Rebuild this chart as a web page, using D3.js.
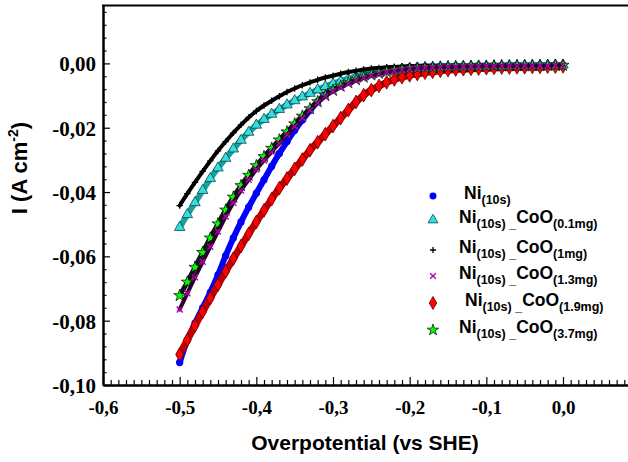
<!DOCTYPE html>
<html><head><meta charset="utf-8">
<script src="https://cdn.jsdelivr.net/npm/d3@7"></script>
<style>body{margin:0;background:#fff}</style></head>
<body><svg id="c" width="628" height="462"></svg>
<script>
const potentials = [-0.50,-0.49,-0.48,-0.47,-0.46,-0.45,-0.44,-0.43,-0.42,-0.41,-0.40,-0.39,-0.38,-0.37,-0.36,-0.35,-0.34,-0.33,-0.32,-0.31,-0.30,-0.29,-0.28,-0.27,-0.26,-0.25,-0.24,-0.23,-0.22,-0.21,-0.20,-0.19,-0.18,-0.17,-0.16,-0.15,-0.14,-0.13,-0.12,-0.11,-0.10,-0.09,-0.08,-0.07,-0.06,-0.05,-0.04,-0.03,-0.02,-0.01,0.00];
const ni10s = [-0.0930,-0.0860,-0.0808,-0.0760,-0.0712,-0.0658,-0.0598,-0.0543,-0.0493,-0.0447,-0.0404,-0.0362,-0.0320,-0.0280,-0.0243,-0.0208,-0.0176,-0.0146,-0.0119,-0.0097,-0.0079,-0.0064,-0.0052,-0.0042,-0.0034,-0.0028,-0.0023,-0.0019,-0.0016,-0.0014,-0.0012,-0.0011,-0.0010,-0.0010,-0.0009,-0.0009,-0.0008,-0.0008,-0.0008,-0.0007,-0.0007,-0.0007,-0.0007,-0.0006,-0.0006,-0.0006,-0.0006,-0.0005,-0.0005,-0.0005,-0.0005];
const coo01 = [-0.0510,-0.0470,-0.0433,-0.0395,-0.0358,-0.0325,-0.0295,-0.0266,-0.0239,-0.0214,-0.0192,-0.0174,-0.0158,-0.0143,-0.0129,-0.0116,-0.0104,-0.0093,-0.0082,-0.0072,-0.0063,-0.0055,-0.0048,-0.0042,-0.0036,-0.0031,-0.0027,-0.0023,-0.0020,-0.0018,-0.0016,-0.0014,-0.0013,-0.0012,-0.0011,-0.0010,-0.0010,-0.0009,-0.0009,-0.0008,-0.0008,-0.0008,-0.0007,-0.0007,-0.0007,-0.0006,-0.0006,-0.0006,-0.0006,-0.0005,-0.0005];
const coo1 = [-0.0442,-0.0405,-0.0370,-0.0336,-0.0303,-0.0272,-0.0243,-0.0216,-0.0191,-0.0168,-0.0148,-0.0131,-0.0116,-0.0102,-0.0089,-0.0078,-0.0068,-0.0059,-0.0051,-0.0044,-0.0038,-0.0032,-0.0027,-0.0023,-0.0019,-0.0016,-0.0014,-0.0012,-0.0011,-0.0010,-0.0009,-0.0009,-0.0008,-0.0008,-0.0008,-0.0007,-0.0007,-0.0007,-0.0007,-0.0006,-0.0006,-0.0006,-0.0006,-0.0006,-0.0005,-0.0005,-0.0005,-0.0005,-0.0005,-0.0004,-0.0004];
const coo13 = [-0.0765,-0.0715,-0.0665,-0.0617,-0.0570,-0.0523,-0.0476,-0.0433,-0.0395,-0.0362,-0.0330,-0.0302,-0.0275,-0.0248,-0.0222,-0.0196,-0.0170,-0.0146,-0.0123,-0.0103,-0.0087,-0.0074,-0.0063,-0.0053,-0.0045,-0.0038,-0.0032,-0.0027,-0.0023,-0.0020,-0.0017,-0.0015,-0.0014,-0.0013,-0.0012,-0.0011,-0.0011,-0.0010,-0.0010,-0.0009,-0.0009,-0.0009,-0.0008,-0.0008,-0.0008,-0.0007,-0.0007,-0.0007,-0.0007,-0.0006,-0.0006];
const coo19 = [-0.0905,-0.0860,-0.0815,-0.0772,-0.0730,-0.0688,-0.0647,-0.0607,-0.0568,-0.0530,-0.0493,-0.0457,-0.0422,-0.0388,-0.0358,-0.0328,-0.0299,-0.0270,-0.0245,-0.0220,-0.0195,-0.0170,-0.0145,-0.0120,-0.0099,-0.0083,-0.0070,-0.0059,-0.0050,-0.0043,-0.0037,-0.0033,-0.0029,-0.0026,-0.0023,-0.0021,-0.0019,-0.0018,-0.0017,-0.0016,-0.0015,-0.0014,-0.0013,-0.0013,-0.0012,-0.0012,-0.0011,-0.0011,-0.0010,-0.0010,-0.0009];
const coo37 = [-0.0722,-0.0680,-0.0634,-0.0588,-0.0543,-0.0499,-0.0456,-0.0416,-0.0380,-0.0348,-0.0318,-0.0290,-0.0264,-0.0238,-0.0213,-0.0188,-0.0164,-0.0141,-0.0119,-0.0100,-0.0084,-0.0071,-0.0060,-0.0051,-0.0043,-0.0036,-0.0031,-0.0026,-0.0022,-0.0019,-0.0016,-0.0015,-0.0014,-0.0013,-0.0012,-0.0011,-0.0010,-0.0010,-0.0009,-0.0009,-0.0009,-0.0008,-0.0008,-0.0008,-0.0007,-0.0007,-0.0007,-0.0007,-0.0006,-0.0006,-0.0006];

const xMajor = [-0.6,-0.5,-0.4,-0.3,-0.2,-0.1,0.0];
const xMajorLabels = ["-0,6","-0,5","-0,4","-0,3","-0,2","-0,1","0,0"];
const yMajor = [0.00,-0.02,-0.04,-0.06,-0.08,-0.10];
const yMajorLabels = ["0,00","-0,02","-0,04","-0,06","-0,08","-0,10"];
const legendNames = [["Ni","(10s)","",""],["Ni","(10s)","CoO","(0.1mg)"],["Ni","(10s)","CoO","(1mg)"],["Ni","(10s)","CoO","(1.3mg)"],["Ni","(10s)","CoO","(1.9mg)"],["Ni","(10s)","CoO","(3.7mg)"]];

const svg = d3.select("#c");
const L = 103, R = 628, T = 5.5, B = 385;
const x = d3.scaleLinear().domain([-0.6, 0.085]).range([L, L + 0.685 * (460 / 0.6)]);
const y = d3.scaleLinear().domain([-0.10, 0.018]).range([B, T]);

const series = [
  {vals: ni10s, sym: "circle", fill: "#0000ff", stroke: "none", band: "#0000ff", bw: 6},
  {vals: coo19, sym: "diamond", fill: "#ff0000", stroke: "#400000", band: "#c00000", bw: 7},
  {vals: coo01, sym: "triangle", fill: "#33dddd", stroke: "#003333", band: "#1a9f9f", bw: 6},
  {vals: coo1, sym: "plus", fill: "none", stroke: "#000", band: "#000", bw: 4},
  {vals: coo37, sym: "star", fill: "#00ff00", stroke: "#000", band: "#111", bw: 5},
  {vals: coo13, sym: "cross", fill: "none", stroke: "#b000b0", band: "#2a002a", bw: 4}
];
const legendStyles = [series[0], series[2], series[3], series[5], series[1], series[4]];

function marker(g, s, cx, cy, scale) {
  scale = scale || 1;
  if (s.sym === "plus") {
    const h = 3.2 * scale;
    g.append("path").attr("d", `M${cx-h},${cy}H${cx+h}M${cx},${cy-h}V${cy+h}`)
      .attr("stroke", s.stroke).attr("stroke-width", 1.3).attr("fill", "none");
  } else if (s.sym === "cross") {
    const h = 3 * scale;
    g.append("path").attr("d", `M${cx-h},${cy-h}L${cx+h},${cy+h}M${cx-h},${cy+h}L${cx+h},${cy-h}`)
      .attr("stroke", s.stroke).attr("stroke-width", 1.4).attr("fill", "none");
  } else {
    const t = {circle: d3.symbolCircle, diamond: d3.symbolDiamond, triangle: d3.symbolTriangle, star: d3.symbolStar}[s.sym];
    const size = {circle: 42, diamond: 55, triangle: 48, star: 45}[s.sym] * scale * scale;
    g.append("path").attr("d", d3.symbol().type(t).size(size)())
      .attr("transform", `translate(${cx},${cy})`)
      .attr("fill", s.fill).attr("stroke", s.stroke).attr("stroke-width", s.stroke === "none" ? 0 : 0.7);
  }
}

const plot = svg.append("g");
const line = d3.line().x((d, i) => x(potentials[i])).y(d => y(d)).curve(d3.curveMonotoneX);
series.forEach(s => {
  plot.append("path").attr("d", line(s.vals)).attr("fill", "none")
    .attr("stroke", s.band).attr("stroke-width", s.bw).attr("stroke-linecap", "round");
  const g = plot.append("g");
  s.vals.forEach((v, i) => marker(g, s, x(potentials[i]), y(v)));
});

const xMinor = d3.range(-60, 9).map(d => d / 100).filter(v => !xMajor.some(m => Math.abs(m - v) < 1e-9));
const yMinor = d3.range(-100, 19, 4).map(d => d / 1000).filter(v => !yMajor.some(m => Math.abs(m - v) < 1e-9));

const gx = svg.append("g").attr("transform", `translate(0,${B})`);
gx.call(d3.axisBottom(x).tickValues(xMinor).tickSize(-5).tickSizeOuter(0).tickFormat(""));
gx.append("g").call(d3.axisBottom(x).tickValues(xMajor).tickSize(-8).tickSizeOuter(0).tickFormat((d, i) => xMajorLabels[i]));
gx.selectAll(".domain").attr("stroke-width", 2).attr("stroke", "#000");
gx.selectAll(".tick line").attr("stroke", "#000").attr("stroke-width", 1.2);
gx.selectAll("text").attr("y", 29).attr("dy", 0).attr("fill", "#000")
  .style("font-family", "'Liberation Serif', 'Times New Roman', serif").style("font-weight", "bold").style("font-size", "19px");

const gy = svg.append("g").attr("transform", `translate(${L},0)`);
gy.call(d3.axisLeft(y).tickValues(yMinor).tickSize(-3.5).tickSizeOuter(0).tickFormat(""));
gy.append("g").call(d3.axisLeft(y).tickValues(yMajor).tickSize(-7).tickSizeOuter(0).tickPadding(7).tickFormat((d, i) => yMajorLabels[i]));
gy.selectAll(".domain").attr("stroke-width", 2).attr("stroke", "#000");
gy.selectAll(".tick line").attr("stroke", "#000").attr("stroke-width", 1.2);
gy.selectAll("text").attr("dy", "0.36em").attr("fill", "#000")
  .style("font-family", "'Liberation Serif', 'Times New Roman', serif").style("font-weight", "bold").style("font-size", "21px");

svg.append("line").attr("x1", L - 1).attr("x2", R).attr("y1", T).attr("y2", T).attr("stroke", "#000").attr("stroke-width", 2);

svg.append("text").attr("x", 365).attr("y", 450).attr("text-anchor", "middle")
  .style("font-family", "'Liberation Sans', Arial, sans-serif").style("font-weight", "bold").style("font-size", "21px")
  .text("Overpotential (vs SHE)");
const yl = svg.append("text").attr("transform", "translate(27,168) rotate(-90)").attr("text-anchor", "middle")
  .style("font-family", "'Liberation Sans', Arial, sans-serif").style("font-weight", "bold").style("font-size", "22px");
yl.append("tspan").text("I (A cm");
yl.append("tspan").attr("dy", -9).style("font-size", "14px").text("-2");
yl.append("tspan").attr("dy", 9).text(")");

const rowsY = [196, 220, 250, 276, 303, 330];
const textX = [464, 459, 459, 459, 465, 459];
const lg = svg.append("g");
legendNames.forEach((n, i) => {
  marker(lg, legendStyles[i], 433, rowsY[i], 0.95);
  const t = lg.append("text").attr("x", textX[i]).attr("y", rowsY[i] + 3)
    .style("font-family", "'Liberation Sans', Arial, sans-serif").style("font-weight", "bold").style("font-size", "17.5px").attr("fill", "#000");
  t.append("tspan").text(n[0]);
  t.append("tspan").attr("dy", 5).style("font-size", "12.5px").text(n[1]);
  if (n[2]) {
    t.append("tspan").style("font-size", "12.5px").text(" _");
    t.append("tspan").attr("dy", -5).text(n[2]);
    t.append("tspan").attr("dy", 5).style("font-size", "12.5px").text(n[3]);
  }
});
</script>
</body></html>
